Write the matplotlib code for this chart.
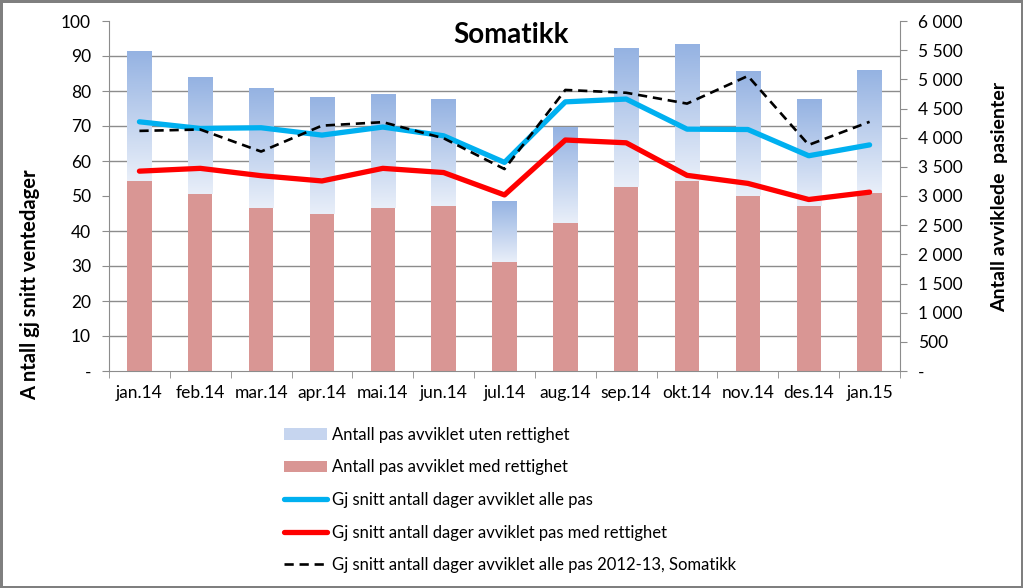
import numpy as np
import matplotlib
matplotlib.use("Agg")
import matplotlib.pyplot as plt
from matplotlib.patches import Patch
from matplotlib.lines import Line2D
from matplotlib.ticker import MultipleLocator, FixedLocator, FuncFormatter
from matplotlib.colors import LinearSegmentedColormap

plt.rcParams['font.family'] = ['Lato', 'DejaVu Sans']

months = ["jan.14", "feb.14", "mar.14", "apr.14", "mai.14", "jun.14", "jul.14",
          "aug.14", "sep.14", "okt.14", "nov.14", "des.14", "jan.15"]
# patients (right axis)
med_rettighet = [3257, 3036, 2796, 2688, 2796, 2826, 1866, 2538, 3156, 3257, 3000, 2826, 3048]
totalt = [5486, 5040, 4860, 4700, 4746, 4656, 2920, 4180, 5540, 5610, 5140, 4656, 5166]
uten_rettighet = [t - m for t, m in zip(totalt, med_rettighet)]
# days (left axis)
snitt_alle = [71.2, 69.3, 69.5, 67.4, 69.7, 67.2, 59.6, 76.9, 77.7, 69.1, 69.0, 61.5, 64.6]
snitt_med = [57.1, 57.9, 55.8, 54.3, 57.9, 56.7, 50.3, 66.0, 65.2, 55.9, 53.6, 49.0, 51.1]
snitt_2012 = [68.6, 69.0, 62.7, 70.1, 71.1, 66.5, 57.7, 80.3, 79.5, 76.4, 84.3, 64.6, 71.2]

left_ticks = [0, 10, 20, 30, 40, 50, 60, 70, 80, 90, 100]
right_ticks = [0, 500, 1000, 1500, 2000, 2500, 3000, 3500, 4000, 4500, 5000, 5500, 6000]

fig = plt.figure(figsize=(10.23, 5.88), dpi=100, edgecolor='#7f7f7f', linewidth=2.5)
ax = fig.add_axes([109/1023, 1-371/588, (900-109)/1023, 350/588])
ax2 = ax.twinx()
ax.set_zorder(ax2.get_zorder() + 1)
ax.patch.set_visible(False)

x = np.arange(len(months))
w = 0.4
grid_c = '#8c8c8c'
pink = '#D99694'

bars_pink = ax2.bar(x, med_rettighet, w, color=pink, zorder=2)
bars_blue = ax2.bar(x, uten_rettighet, w, bottom=med_rettighet, color='none', zorder=2)
grad = np.linspace(0, 1, 256).reshape(-1, 1)
cmap = LinearSegmentedColormap.from_list('g', ['#E9EFF9', '#94B2E2'])
for b in bars_blue:
    bx, by = b.get_x(), b.get_y()
    bw, bh = b.get_width(), b.get_height()
    im = ax2.imshow(grad, extent=[bx, bx + bw, by, by + bh], origin='lower',
                    cmap=cmap, aspect='auto', zorder=2)
    im.set_clip_path(b)

ax2.set_ylim(0, 6000)
ax.set_ylim(0, 100)
ax.set_xlim(-0.5, len(months) - 0.5)

ax.plot(x, snitt_alle, color='#00B0F0', lw=3.8, solid_capstyle='round', solid_joinstyle='round')
ax.plot(x, snitt_med, color='#FF0000', lw=3.8, solid_capstyle='round', solid_joinstyle='round')
ax.plot(x, snitt_2012, color='black', lw=1.9, dashes=(3.5, 2.2))

# ticks & labels
ax.yaxis.set_major_locator(FixedLocator(left_ticks))
ax.yaxis.set_major_formatter(FuncFormatter(lambda v, p: '-' if v == 0 else f'{int(v)}'))
ax2.yaxis.set_major_locator(FixedLocator(right_ticks))
ax2.yaxis.set_major_formatter(FuncFormatter(lambda v, p: '-' if v == 0 else f'{int(v):,}'.replace(',', ' ')))
ax2.yaxis.set_minor_locator(MultipleLocator(600))
ax2.grid(True, which='minor', axis='y', color=grid_c, lw=1.0, zorder=0)
ax2.set_axisbelow(True)
ax2.tick_params(axis='y', which='minor', length=0)

ax.set_xticks(x)
ax.set_xticklabels(months)
ax.xaxis.set_minor_locator(FixedLocator(np.arange(-0.5, len(months), 1)))
ax.tick_params(axis='x', which='major', length=0, pad=10, labelsize=12.5)
ax.tick_params(axis='x', which='minor', length=5, color=grid_c, direction='out')
ax.tick_params(axis='y', length=5, color=grid_c, labelsize=12.5, pad=8)
ax2.tick_params(axis='y', which='major', length=5, color=grid_c, labelsize=12.5, pad=8)

for a in (ax, ax2):
    a.spines['top'].set_visible(False)
    for s in ('left', 'right', 'bottom'):
        a.spines[s].set_color(grid_c)
ax.spines['right'].set_visible(False)
ax2.spines['left'].set_visible(False)
ax2.spines['bottom'].set_visible(False)

ax.set_ylabel('A ntall gj snitt ventedager', fontsize=14.5, fontweight='bold')
ax2.set_ylabel('Antall avviklede  pasienter', fontsize=14, fontweight='bold')
ax.yaxis.set_label_coords(-0.087, 0.246)
ax2.yaxis.set_label_coords(1.115, 0.497)

fig.text(0.5, 1-35/588, 'Somatikk', ha='center', va='center', fontsize=20, fontweight='bold')

handles = [Patch(facecolor='#C6D5EF', edgecolor='none'),
           Patch(facecolor=pink, edgecolor='none'),
           Line2D([], [], color='#00B0F0', lw=3.8, solid_capstyle='round'),
           Line2D([], [], color='#FF0000', lw=3.8, solid_capstyle='round'),
           Line2D([], [], color='black', lw=1.9, dashes=(3.5, 2.2))]
labels = ['Antall pas avviklet uten rettighet',
          'Antall pas avviklet med rettighet',
          'Gj snitt antall dager avviklet alle pas',
          'Gj snitt antall dager avviklet pas med rettighet',
          'Gj snitt antall dager avviklet alle pas 2012-13, Somatikk']
fig.legend(handles, labels, loc='upper left', bbox_to_anchor=(277/1023, 1-420/588),
           frameon=False, fontsize=12, handlelength=2.6, handletextpad=0.3,
           labelspacing=1.0, borderaxespad=0)

fig.savefig('out.png', dpi=100)
